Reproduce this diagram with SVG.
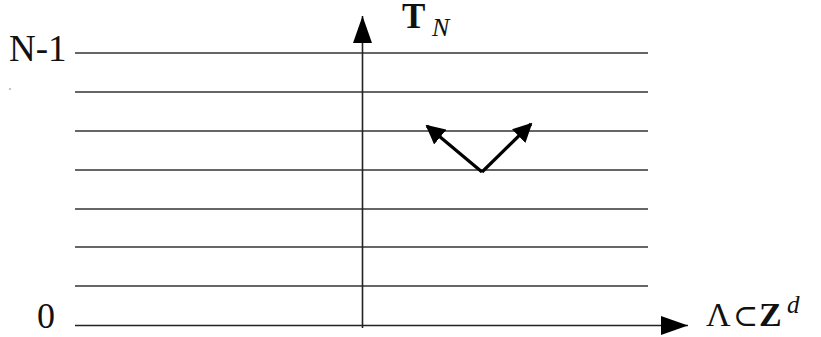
<svg xmlns="http://www.w3.org/2000/svg" width="821" height="337" viewBox="0 0 821 337">
<style>
.lvl{stroke:#333;stroke-width:1.6;fill:none}
.ax{stroke:#222;stroke-width:1.6;fill:none}
.mv{stroke:#000;stroke-width:3.2;fill:none}
text{font-family:"Liberation Serif","DejaVu Serif",serif;fill:#111}
</style>
<defs>
<marker id="big" viewBox="0 0 27 19" refX="27" refY="9.5" markerWidth="27" markerHeight="19" markerUnits="userSpaceOnUse" orient="auto">
<path d="M0,0 L27,9.5 L0,19 Z" fill="#000"/>
</marker>
<marker id="sm" viewBox="0 0 10 10" refX="9" refY="5" markerWidth="6" markerHeight="6" orient="auto">
<path d="M0,0 L10,5 L0,10 Z" fill="#000"/>
</marker>
</defs>
<rect width="821" height="337" fill="#fff"/>
<g id="levels">
<line class="lvl" x1="75" y1="53" x2="648" y2="53"/>
<line class="lvl" x1="75" y1="92" x2="648" y2="92"/>
<line class="lvl" x1="75" y1="131" x2="648" y2="131"/>
<line class="lvl" x1="75" y1="170" x2="648" y2="170"/>
<line class="lvl" x1="75" y1="209" x2="648" y2="209"/>
<line class="lvl" x1="75" y1="247" x2="648" y2="247"/>
<line class="lvl" x1="75" y1="286" x2="648" y2="286"/>
</g>
<g id="axes">
<line class="ax" x1="75" y1="325.5" x2="688" y2="325.5" marker-end="url(#big)"/>
<line class="ax" x1="362.5" y1="328" x2="362.5" y2="16" marker-end="url(#big)"/>
</g>
<g id="moves">
<line class="mv" x1="482" y1="172" x2="427" y2="126" marker-end="url(#sm)"/>
<line class="mv" x1="482" y1="172" x2="531" y2="124" marker-end="url(#sm)"/>
</g>
<g id="labels">
<text x="9" y="61" font-size="37">N-1</text>
<text x="37" y="328" font-size="36">0</text>
<text x="402" y="28" font-size="35" font-weight="bold">T</text>
<text x="432" y="36" font-size="26" font-style="italic">N</text>
<text x="706" y="326" font-size="34">Λ</text>
<text x="733" y="326" font-size="30">⊂</text>
<text x="759" y="326" font-size="34" font-weight="bold">Z</text>
<text x="787" y="313" font-size="25" font-style="italic">d</text>
<circle cx="10" cy="89" r="0.8" fill="#777"/>
</g>
</svg>
